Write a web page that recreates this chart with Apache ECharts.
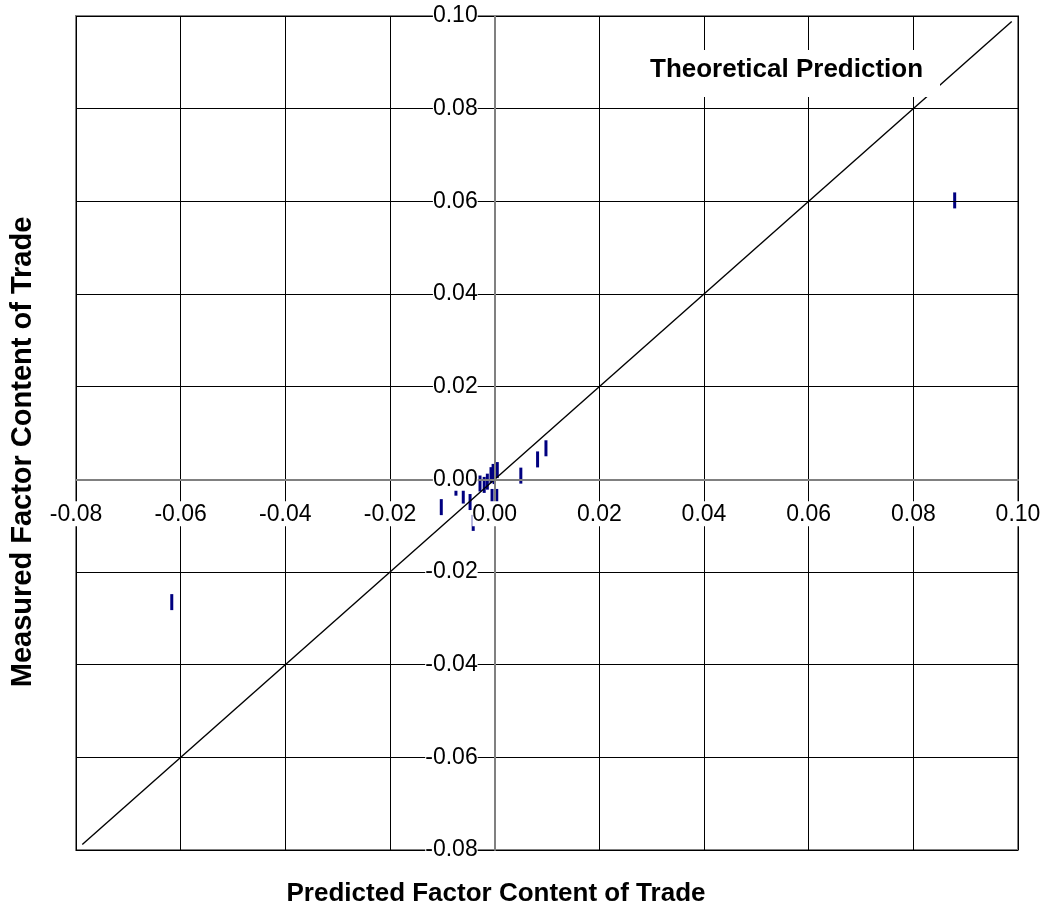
<!DOCTYPE html>
<html>
<head>
<meta charset="utf-8">
<script src="https://cdn.jsdelivr.net/npm/echarts@6/dist/echarts.min.js"></script>
<style>
html,body{margin:0;padding:0;background:#fff;}
#chart{width:1047px;height:911px;}
</style>
</head>
<body>
<div id="chart"></div>
<script>
// Data
const predicted = [-0.0617, 0.0879, -0.0102, -0.0074, -0.0060, -0.0047, -0.0041,
  -0.0028, -0.0020, -0.0014, -0.0007, -0.0003, -0.0001, -0.0005, 0.0004, 0.0005,
  0.0050, 0.0082, 0.0098];
const measured = [-0.0265, 0.0602, -0.0060, -0.0018, -0.0035, -0.0049, -0.0094,
  -0.0009, -0.0012, -0.0005, 0.0009, 0.0016, 0.0007, -0.0038, -0.0038, 0.0020,
  0.0008, 0.0043, 0.0067];
const predictionLine = [[-0.0788, -0.0788], [0.0988, 0.0988]];
const xTitle = 'Predicted Factor Content of Trade';
const yTitle = 'Measured Factor Content of Trade';
const lineLabel = 'Theoretical Prediction';
const axisMin = -0.08, axisMax = 0.10, axisStep = 0.02;

const points = predicted.map((x, i) => [x, measured[i]]);
const fmt = v => (Math.abs(v) < 1e-9 ? 0 : v).toFixed(2);
const FONT = 'Liberation Sans, Arial, sans-serif';

// layout of the plot area
const G = {left: 76, right: 29, top: 16, bottom: 61};
const W = 1047, H = 911;
const plotW = W - G.left - G.right, plotH = H - G.top - G.bottom;
// shift axes so they cross at the origin
const yZeroFromBottom = (0 - axisMin) / (axisMax - axisMin) * plotH;
const xZeroFromLeft = (0 - axisMin) / (axisMax - axisMin) * plotW;

const chart = echarts.init(document.getElementById('chart'), null, {renderer: 'canvas'});
chart.setOption({
  animation: false,
  backgroundColor: '#fff',
  grid: Object.assign({show: true, borderColor: '#808080', borderWidth: 2,
    backgroundColor: '#fff'}, G),
  xAxis: {
    type: 'value', min: axisMin, max: axisMax, interval: axisStep, z: 3,
    position: 'bottom', offset: -yZeroFromBottom,
    axisLine: {onZero: false, lineStyle: {color: '#808080', width: 2}},
    axisTick: {show: false},
    splitLine: {show: true, lineStyle: {color: '#000', width: 1}},
    axisLabel: {formatter: fmt, fontSize: 23, fontFamily: FONT, color: '#000',
      backgroundColor: '#fff', margin: 22, padding: [2, 0, 0, 0]}
  },
  yAxis: {
    type: 'value', min: axisMin, max: axisMax, interval: axisStep, z: 3,
    position: 'left', offset: -xZeroFromLeft,
    axisLine: {onZero: false, lineStyle: {color: '#808080', width: 2}},
    axisTick: {show: false},
    splitLine: {show: true, lineStyle: {color: '#000', width: 1}},
    axisLabel: {formatter: fmt, fontSize: 23, fontFamily: FONT, color: '#000',
      backgroundColor: '#fff', margin: 17, padding: 0}
  },
  series: [
    {type: 'line', data: predictionLine, symbol: 'none', silent: true, z: 2,
      lineStyle: {color: '#000', width: 1.4}},
    {type: 'scatter', data: points, symbol: 'rect', symbolSize: [3, 16], z: 1,
      itemStyle: {color: '#000080', opacity: 1}}
  ],
  graphic: [
    {type: 'rect', z: 100, shape: {x: 640, y: 50, width: 300, height: 47},
      style: {fill: '#fff'}},
    {type: 'text', z: 101, left: 650, top: 57,
      style: {text: lineLabel, font: 'bold 26px ' + FONT, fill: '#000'}},
    {type: 'text', z: 101, x: 496, y: 894,
      style: {text: xTitle, font: 'bold 26px ' + FONT, fill: '#000',
        align: 'center', verticalAlign: 'middle'}},
    {type: 'text', z: 101, x: 23, y: 452, rotation: Math.PI / 2,
      style: {text: yTitle, font: 'bold 29px ' + FONT, fill: '#000',
        align: 'center', verticalAlign: 'middle'}}
  ]
});
</script>
</body>
</html>
